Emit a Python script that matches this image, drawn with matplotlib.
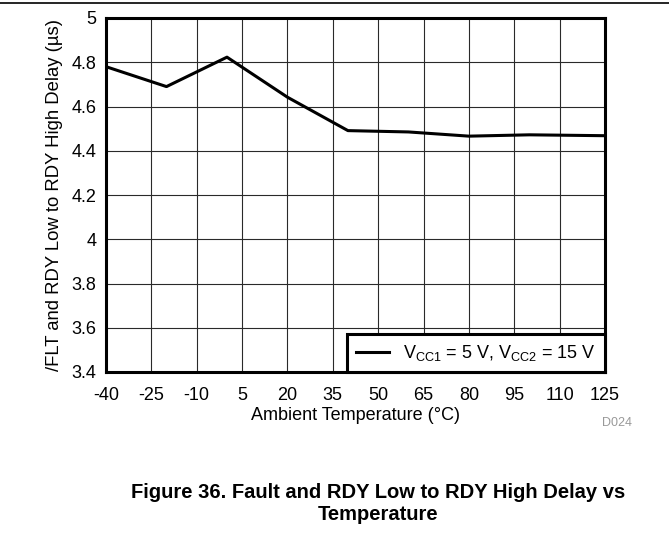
import matplotlib
matplotlib.use('Agg')
import matplotlib.pyplot as plt

plt.rcParams['font.family'] = ['Liberation Sans', 'DejaVu Sans']
plt.rcParams['mathtext.fontset'] = 'custom'
plt.rcParams['mathtext.rm'] = 'Liberation Sans'
plt.rcParams['axes.unicode_minus'] = False

# Data
temp = [-40, -20, 0, 20, 40, 60, 80, 100, 125]
delay = [4.78, 4.69, 4.823, 4.642, 4.491, 4.485, 4.466, 4.472, 4.468]
xticks = [-40, -25, -10, 5, 20, 35, 50, 65, 80, 95, 110, 125]
yticks = [3.4, 3.6, 3.8, 4.0, 4.2, 4.4, 4.6, 4.8, 5.0]
ytick_labels = ['3.4', '3.6', '3.8', '4', '4.2', '4.4', '4.6', '4.8', '5']

fig = plt.figure(figsize=(6.69, 5.39), dpi=100)
ax = fig.add_axes([106 / 669, 1 - 372 / 539, 499 / 669, 354 / 539])

ax.plot(temp, delay, color='black', linewidth=2.2,
        label='V$_{\\mathrm{CC1}}$ = 5 V, V$_{\\mathrm{CC2}}$ = 15 V', zorder=3)

ax.set_xlim(-40, 125)
ax.set_ylim(3.4, 5.0)
ax.set_xticks(xticks)
ax.set_yticks(yticks)
ax.set_yticklabels(ytick_labels)
ax.tick_params(length=0, labelsize=13)
ax.tick_params(axis='x', pad=11)
ax.tick_params(axis='y', pad=7)
ax.grid(True, color='#2a2a2a', linewidth=0.8)
for s in ax.spines.values():
    s.set_linewidth(2.2)

ax.set_xlabel('Ambient Temperature (°C)', fontsize=13, labelpad=2)
ax.set_ylabel('/FLT and RDY Low to RDY High Delay (µs)', fontsize=13.3, labelpad=6)

leg = ax.legend(loc='lower right', bbox_to_anchor=(1.0, 0.0), borderaxespad=0,
                fontsize=13, fancybox=False, framealpha=1, edgecolor='black',
                handlelength=1.8, borderpad=0.5, handletextpad=0.8)
leg.get_frame().set_linewidth(2.2)

fig.text(617 / 669, 1 - 423 / 539, 'D024', color='#999999', fontsize=9,
         ha='center', va='center')
fig.text(378 / 669, 1 - 503 / 539,
         'Figure 36. Fault and RDY Low to RDY High Delay vs\nTemperature',
         fontsize=14.5, fontweight='bold', ha='center', va='center', linespacing=1.2)
fig.add_artist(plt.Line2D([0, 1], [1 - 3 / 539, 1 - 3 / 539], color='black', linewidth=1.2))

fig.savefig('out.png', dpi=100)
